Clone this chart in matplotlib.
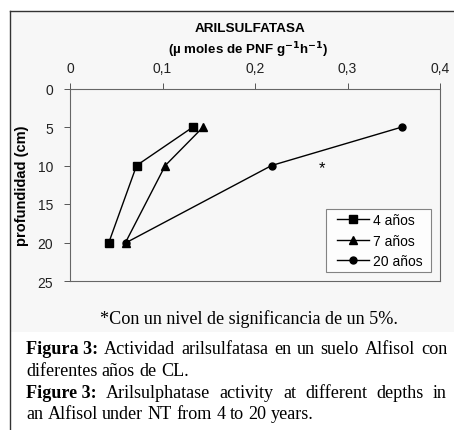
import matplotlib
matplotlib.use("Agg")
import matplotlib.pyplot as plt
from matplotlib.patches import Rectangle
from matplotlib.lines import Line2D
from matplotlib.offsetbox import DrawingArea

# Data
depths = [5, 10, 20]
series_names = ["4 años", "7 años", "20 años"]
vals_4 = [0.133, 0.072, 0.042]
vals_7 = [0.144, 0.103, 0.060]
vals_20 = [0.359, 0.218, 0.061]
markers = ["s", "^", "o"]
marker_sizes = [5.5, 6.2, 5.0]
xticks = [0, 0.1, 0.2, 0.3, 0.4]
xticklabels = ["0", "0,1", "0,2", "0,3", "0,4"]
yticks = [0, 5, 10, 15, 20, 25]
star_pos = (0.272, 10.3)

W, H = 454, 431
fig = plt.figure(figsize=(W / 100, H / 100), dpi=100)
fig.patch.set_facecolor("white")

def fx(px):
    return px / W

def fy(py):
    return 1 - py / H

# outer frame and light gray panel
fig.patches.append(Rectangle((fx(10), fy(333)), fx(454) - fx(10), fy(12) - fy(333),
                             transform=fig.transFigure, facecolor="#f7f7f7",
                             edgecolor="none", zorder=-5))
fig.lines.append(Line2D([fx(9.5), fx(9.5)], [fy(12), fy(431)], transform=fig.transFigure,
                        color="#333333", lw=1.0, zorder=-4))
fig.lines.append(Line2D([fx(9.5), fx(454)], [fy(12), fy(12)], transform=fig.transFigure,
                        color="#333333", lw=1.0, zorder=-4))

ax = fig.add_axes([fx(70), fy(282), fx(440) - fx(70), fy(89.5) - fy(282)])
ax.set_facecolor("none")
sans = "Liberation Sans"
serif = "Liberation Serif"

for vals, name, m, ms in zip([vals_4, vals_7, vals_20], series_names, markers, marker_sizes):
    ax.plot(vals, depths, color="black", lw=1.0, marker=m, markersize=ms,
            markerfacecolor="black", markeredgecolor="black", label=name)

ax.text(star_pos[0], star_pos[1], "*", fontsize=12, family=sans, ha="center", va="center")

ax.set_xlim(0, 0.4)
ax.set_ylim(25, 0)
ax.set_xticks(xticks)
ax.set_xticklabels(xticklabels, family=sans, fontsize=10, color="#222222")
ax.set_yticks(yticks)
ax.set_yticklabels([str(v) for v in yticks], family=sans, fontsize=10, color="#222222")
ax.xaxis.tick_top()
ax.tick_params(axis="x", direction="out", length=4, width=0.7, color="#555555", pad=6)
ax.tick_params(axis="y", direction="out", length=4, width=0.7, color="#555555", pad=8)
for s in ax.spines.values():
    s.set_color("#666666")
    s.set_linewidth(0.8)

ax.set_ylabel("profundidad (cm)", family=sans, fontsize=10.5, fontweight="bold", labelpad=6)

leg = ax.legend(loc="lower right", bbox_to_anchor=(0.976, 0.047),
                prop={"family": sans, "size": 10},
                frameon=True, fancybox=False, handlelength=2.3, handletextpad=0.3,
                labelspacing=0.45, borderpad=0.3, borderaxespad=0)
leg.get_frame().set_edgecolor("#666666")
leg.get_frame().set_linewidth(0.8)
leg.get_frame().set_facecolor("white")
try:
    hb = leg._legend_handle_box
    cols = list(hb.get_children())
    hb._children = [DrawingArea(5, 1)] + cols + [DrawingArea(3, 1)]
    hb.mode = "fixed"
    hb.sep = 0
except Exception:
    pass

fig.text(fx(250), fy(29), "ARILSULFATASA", family=sans, fontsize=9.7, fontweight="bold",
         ha="center", va="center")
fig.text(fx(248), fy(50), r"(µ moles de PNF g$^{\mathbf{-1}}$h$^{\mathbf{-1}}$)", family=sans,
         fontsize=9.6, fontweight="bold", ha="center", va="center")

FS = 13.1
fig.text(fx(249), fy(319), "*Con un nivel de significancia de un 5%.", family=serif,
         fontsize=FS, ha="center", va="center")

fig.canvas.draw()
renderer = fig.canvas.get_renderer()

def word_width(w, bold):
    t = fig.text(0, 0, w, family=serif, fontsize=FS, fontweight="bold" if bold else "normal")
    bb = t.get_window_extent(renderer)
    t.remove()
    return bb.width

def caption_line(y, bold, rest, justify_to=None):
    x0 = 26
    words = []
    if bold:
        words.append((bold, True))
    words += [(w, False) for w in rest.split(" ")]
    widths = [word_width(w, b) for w, b in words]
    space = word_width("a a", False) - 2 * word_width("a", False)
    if justify_to is not None and len(words) > 1:
        space = (justify_to - x0 - sum(widths)) / (len(words) - 1)
    x = x0
    for (w, b), wd in zip(words, widths):
        fig.text(fx(x), fy(y), w, family=serif, fontsize=FS,
                 fontweight="bold" if b else "normal", ha="left", va="baseline")
        x += wd + space

caption_line(354, "Figura 3:", "Actividad arilsulfatasa en un suelo Alfisol con", justify_to=447)
caption_line(376, None, "diferentes años de CL.")
caption_line(398, "Figure 3:", "Arilsulphatase activity at different depths in", justify_to=447)
caption_line(419, None, "an Alfisol under NT from 4 to 20 years.")

fig.savefig("out.png", dpi=100, facecolor="white")
